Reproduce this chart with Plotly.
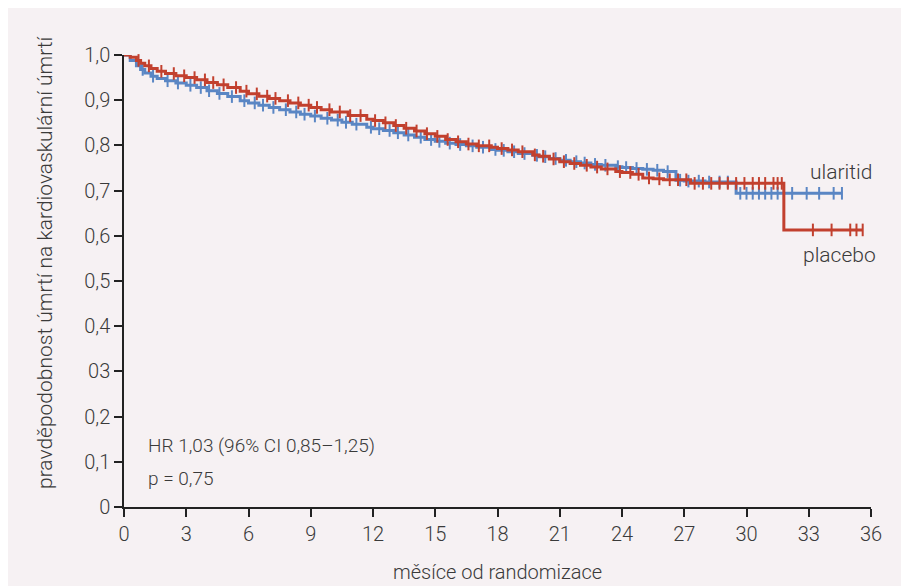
import numpy as np
import plotly.graph_objects as go

# ---- data ----
ularitid_t = [0, 0.3, 0.6, 0.8, 1.0, 1.3, 1.6, 2.0, 2.5, 3.0, 3.5, 4.0, 4.5, 5.0, 5.6, 6.0, 6.5, 7.0,
              7.5, 8.0, 8.5, 9.0, 9.5, 10.0, 10.5, 11.0, 11.7, 12.0, 12.5, 13.0, 13.5, 14.0, 14.5,
              15.0, 15.5, 16.0, 16.5, 17.0, 17.7, 18.0, 18.5, 19.0, 19.7, 20.0, 20.5, 21.0, 21.5,
              22.0, 22.5, 23.0, 23.7, 24.0, 24.5, 25.0, 25.5, 26.0, 26.6, 27.0, 28.0, 29.5, 34.6]
ularitid_s = [1.0, 0.988, 0.976, 0.968, 0.96, 0.953, 0.948, 0.943, 0.938, 0.933, 0.928, 0.921, 0.915,
              0.908, 0.899, 0.894, 0.889, 0.884, 0.879, 0.874, 0.869, 0.865, 0.86, 0.856, 0.851, 0.847,
              0.84, 0.837, 0.833, 0.828, 0.823, 0.818, 0.813, 0.809, 0.805, 0.802, 0.799, 0.796,
              0.791, 0.789, 0.786, 0.782, 0.778, 0.775, 0.771, 0.767, 0.764, 0.761, 0.758, 0.756,
              0.753, 0.751, 0.749, 0.747, 0.745, 0.742, 0.723, 0.721, 0.719, 0.694, 0.694]
ularitid_censor = [0.9, 1.4, 2.1, 2.6, 3.2, 3.7, 4.1, 4.6, 5.2, 5.8, 6.3, 6.7, 7.2, 7.8, 8.3, 8.7,
                   9.2, 9.8, 10.3, 10.7, 11.2, 11.9, 12.3, 12.8, 13.2, 13.7, 14.3, 14.8, 15.2,
                   15.7, 16.2, 16.8, 17.3, 17.9, 18.3, 18.8, 19.3, 19.9, 20.3, 20.8, 21.3, 21.8,
                   22.2, 22.7, 23.2, 23.8, 24.2, 24.7, 25.2, 25.7, 26.2, 26.8, 27.2, 27.7, 28.2,
                   28.7, 29.1, 29.7, 30.0, 30.3, 30.6, 30.9, 31.2, 31.5, 31.8, 32.2, 32.9, 33.5,
                   34.2, 34.6]

placebo_t = [0, 0.3, 0.6, 0.8, 1.0, 1.3, 1.6, 2.0, 2.5, 3.0, 3.5, 4.0, 4.5, 5.0, 5.6, 6.0, 6.5,
             7.0, 7.5, 8.0, 8.5, 9.0, 9.5, 10.0, 10.8, 11.7, 12.0, 12.5, 13.0, 13.5, 14.0, 14.5,
             15.0, 15.5, 16.0, 16.5, 17.0, 17.7, 18.0, 18.5, 19.0, 19.7, 20.0, 20.5, 21.0, 21.5,
             22.0, 22.5, 23.0, 23.7, 24.0, 24.5, 25.0, 25.5, 26.0, 27.3, 31.8, 35.6]
placebo_s = [1.0, 0.995, 0.988, 0.982, 0.976, 0.97, 0.964, 0.959, 0.954, 0.95, 0.945, 0.939,
             0.934, 0.928, 0.92, 0.914, 0.909, 0.904, 0.899, 0.894, 0.889, 0.884, 0.879, 0.874,
             0.866, 0.858, 0.855, 0.85, 0.844, 0.838, 0.832, 0.826, 0.82, 0.813, 0.808, 0.803,
             0.799, 0.796, 0.793, 0.79, 0.786, 0.779, 0.776, 0.77, 0.764, 0.76, 0.756, 0.752,
             0.748, 0.742, 0.74, 0.736, 0.728, 0.726, 0.724, 0.716, 0.613, 0.613]
placebo_censor = [0.7, 1.2, 1.8, 2.4, 2.9, 3.4, 3.9, 4.3, 4.8, 5.4, 5.9, 6.4, 6.9, 7.3, 7.9, 8.4,
                  8.9, 9.3, 9.9, 10.4, 10.9, 11.4, 12.1, 12.6, 13.1, 13.6, 14.1, 14.6, 15.1, 15.6,
                  16.1, 16.6, 17.1, 17.6, 18.2, 18.7, 19.2, 19.8, 20.2, 20.7, 21.2, 21.7, 22.3,
                  22.8, 23.3, 23.9, 24.4, 24.8, 25.3, 25.8, 26.3, 26.7, 27.1, 27.5, 27.9, 28.3,
                  28.7, 29.1, 29.5, 29.9, 30.3, 30.6, 30.9, 31.3, 31.5, 31.7, 33.2, 34.1, 35.0,
                  35.3, 35.6]

x_ticks = list(range(0, 37, 3))
y_tickvals = [0, 0.1, 0.2, 0.3, 0.4, 0.5, 0.6, 0.7, 0.8, 0.9, 1.0]
y_ticktext = ["0", "0,1", "0,2", "03", "0,4", "0,5", "0,6", "0,7", "0,8", "0,9", "1,0"]

BLUE = "#5a86c4"
RED = "#c2402e"
TXT = "#3a3a3a"
FONT = "Roboto"
WEIGHT = 300


def step_value(times, surv, t):
    idx = np.searchsorted(np.array(times), t, side="right") - 1
    return np.array(surv)[idx]


fig = go.Figure()
for name, t, s, c, col in [("ularitid", ularitid_t, ularitid_s, ularitid_censor, BLUE),
                           ("placebo", placebo_t, placebo_s, placebo_censor, RED)]:
    fig.add_trace(go.Scatter(x=t, y=s, mode="lines", line=dict(color=col, width=3, shape="hv"),
                             name=name, cliponaxis=False, showlegend=False))
    fig.add_trace(go.Scatter(x=c, y=step_value(t, s, c), mode="markers",
                             marker=dict(symbol="line-ns", size=9, line=dict(width=2, color=col)),
                             name=name + " censor", cliponaxis=False, showlegend=False))

OFF = 8  # page offset of the figure inside the browser window
W, H = 909 - OFF, 586 - OFF
L, R, T, B = 124 - OFF, 909 - 871, 55 - OFF, 586 - 507
pw, ph = W - L - R, H - T - B


def px(x):  # screen pixel -> paper x
    return (x - OFF - L) / pw


def py(y):  # screen pixel -> paper y
    return (H - B - (y - OFF)) / ph


def f(size):
    return dict(family=FONT, size=size, color=TXT, weight=WEIGHT)


fig.add_annotation(text="HR 1,03 (96% CI 0,85–1,25)", x=px(146), y=py(445), xref="paper",
                   yref="paper", xanchor="left", yanchor="middle", showarrow=False, font=f(19))
fig.add_annotation(text="p = 0,75", x=px(146), y=py(478), xref="paper", yref="paper",
                   xanchor="left", yanchor="middle", showarrow=False, font=f(19))
fig.add_annotation(text="ularitid", x=px(808), y=py(172), xref="paper", yref="paper",
                   xanchor="left", yanchor="middle", showarrow=False, font=f(21))
fig.add_annotation(text="placebo", x=px(801), y=py(255), xref="paper", yref="paper",
                   xanchor="left", yanchor="middle", showarrow=False, font=f(21))
fig.add_annotation(text="měsíce od randomizace", x=px(497), y=py(572), xref="paper",
                   yref="paper", xanchor="center", yanchor="middle", showarrow=False, font=f(20))
fig.add_annotation(text="pravděpodobnost úmrtí na kardiovaskulární úmrtí", x=px(45),
                   y=py(262), xref="paper", yref="paper", xanchor="center", yanchor="middle",
                   textangle=-90, showarrow=False, font=f(21))

axis_common = dict(showgrid=False, zeroline=False, showline=True, linecolor="#222",
                   linewidth=1.5, ticks="outside", ticklen=8, tickwidth=1.5, tickcolor="#222",
                   tickfont=f(20))
fig.update_xaxes(range=[0, 36], tickvals=x_ticks, ticktext=[str(v) for v in x_ticks],
                 **axis_common)
fig.update_yaxes(range=[0, 1.0], tickvals=y_tickvals, ticktext=y_ticktext, **axis_common)

fig.update_layout(width=W, height=H, margin=dict(l=L, r=R, t=T, b=B, pad=0),
                  paper_bgcolor="#f6f1f3", plot_bgcolor="#f6f1f3",
                  font=dict(family=FONT, color=TXT), showlegend=False)

fig.write_html("out.html")
